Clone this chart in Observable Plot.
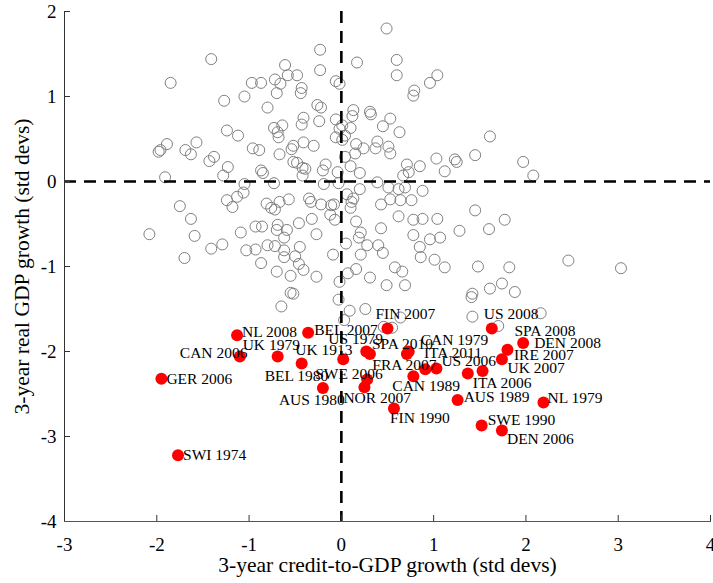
<!DOCTYPE html>
<html><head><meta charset="utf-8">
<script src="https://cdn.jsdelivr.net/npm/d3@7"></script>
<script src="https://cdn.jsdelivr.net/npm/@observablehq/plot@0.6"></script>
<style>html,body{margin:0;padding:0;background:#fff} svg{display:block}</style>
</head><body><div id="chart"></div>
<script>
// Non-crisis observations (open grey circles)
const greyX = [0.49,-1.41,-1.85,-0.23,-0.23,0.17,-0.61,-0.58,-0.48,-0.72,-0.66,-0.97,-0.87,-0.43,-0.44,-0.70,-0.06,-0.02,-1.05,-1.27,-0.80,-0.26,-0.22,0.13,0.31,0.32,0.12,-0.41,-0.43,-0.24,-0.06,0.01,0.10,-0.02,-0.64,-0.73,-0.69,-0.68,-1.24,-1.12,0.45,0.53,-0.06,0.01,0.04,-0.41,-0.30,-0.52,-0.54,-0.67,-0.96,-0.89,0.16,0.24,0.15,0.39,0.37,0.51,0.53,0.04,-1.89,-1.57,-1.69,-1.63,-1.98,-1.96,-1.38,-1.43,-1.23,-0.52,-0.48,-0.42,-0.39,-0.17,-0.20,0.10,-0.04,0.20,-0.87,-0.85,-1.28,-1.91,-0.42,
-0.73,-1.05,-1.06,-1.13,-1.24,-1.18,-1.75,-1.63,-1.59,-2.08,-1.09,-0.93,-0.86,-0.81,-0.76,-0.72,-0.67,-0.57,-0.35,-0.33,-0.22,-0.11,-0.08,-0.12,-0.07,-0.19,-0.03,0.06,0.13,0.11,0.10,0.20,0.39,0.51,0.43,0.53,-0.32,-0.46,-0.69,-0.70,-0.59,-0.62,-0.27,0.16,0.21,0.19,0.43,0.05,0.28,0.40,0.45,0.21,-0.09,-0.45,-0.62,-0.72,-0.80,-0.93,-1.03,-1.29,-1.41,-1.70,-0.87,-0.62,-0.50,-0.46,-0.41,-0.55,-0.70,-0.27,0.07,0.16,0.31,0.49,-0.02,-0.55,-0.52,-0.65,-0.03,0.09,0.26,0.03,0.46,
0.62,0.69,0.88,0.64,0.76,0.62,0.78,0.88,1.04,1.45,1.77,1.28,1.60,0.78,0.96,1.07,0.85,0.86,1.01,1.12,1.48,1.82,2.46,3.03,0.58,0.66,0.69,1.42,1.41,1.61,1.74,1.88,1.42,2.16,1.70,0.64,0.55,
0.60,0.60,0.79,0.78,0.96,1.04,0.63,0.71,0.67,0.73,0.85,1.03,1.12,1.23,1.25,1.45,1.61,1.97,2.08];
const greyY = [1.80,1.44,1.16,1.55,1.31,1.40,1.37,1.25,1.25,1.20,1.15,1.16,1.16,1.10,1.04,1.04,1.18,1.15,1.00,0.95,0.87,0.90,0.87,0.84,0.82,0.79,0.77,0.75,0.67,0.71,0.73,0.66,0.63,0.62,0.66,0.63,0.58,0.52,0.60,0.54,0.65,0.74,0.52,0.49,0.54,0.46,0.42,0.42,0.38,0.32,0.39,0.37,0.44,0.39,0.33,0.47,0.39,0.41,0.33,0.29,0.44,0.46,0.37,0.32,0.35,0.37,0.29,0.24,0.17,0.23,0.22,0.16,0.15,0.20,0.13,0.18,0.11,0.10,0.13,0.10,0.07,0.05,0.07,
-0.02,-0.03,-0.13,-0.18,-0.22,-0.30,-0.29,-0.44,-0.64,-0.62,-0.60,-0.53,-0.53,-0.26,-0.31,-0.33,-0.24,-0.21,-0.20,-0.24,-0.27,-0.28,-0.27,-0.39,-0.45,-0.03,-0.02,-0.15,-0.20,-0.24,-0.31,-0.09,-0.01,-0.07,-0.27,-0.21,-0.44,-0.49,-0.51,-0.57,-0.57,-0.66,-0.62,-0.47,-0.60,-0.66,-0.55,-0.73,-0.75,-0.75,-0.84,-0.86,-0.86,-0.77,-0.81,-0.76,-0.75,-0.80,-0.81,-0.74,-0.79,-0.90,-0.96,-0.89,-0.88,-0.97,-1.04,-1.11,-1.06,-1.12,-1.08,-1.03,-1.13,-1.22,-1.18,-1.31,-1.32,-1.47,-1.39,-1.52,-1.50,-1.63,-1.71,
-0.09,-0.07,-0.11,-0.22,-0.22,-0.41,-0.45,-0.44,-0.44,-0.34,-0.45,-0.58,-0.56,-0.63,-0.68,-0.66,-0.77,-0.89,-0.92,-1.01,-1.00,-1.01,-0.93,-1.02,-1.01,-1.06,-1.22,-1.32,-1.36,-1.26,-1.20,-1.30,-1.59,-1.55,-1.70,-1.60,-1.72,
1.43,1.25,1.07,1.01,1.16,1.25,0.58,0.20,0.07,0.11,0.18,0.27,0.12,0.26,0.23,0.31,0.53,0.23,0.07];

// Crisis episodes (red dots)
const crisisNames = ["NL 2008","CAN 2006","UK 1979","BEL 2007","BEL 1980","UK 1913","AUS 1980","US 1979","SPA 2010","SWE 2006","NOR 2007","GER 2006","SWI 1974","FIN 2007","US 2008","CAN 1979","ITA 2011","FRA 2007","CAN 1989","US 2006","ITA 2006","UK 2007","IRE 2007","SPA 2008","DEN 2008","FIN 1990","AUS 1989","NL 1979","SWE 1990","DEN 2006"];
const crisisX = [-1.13,-1.10,-0.69,-0.36,-0.43,0.02,-0.20,0.27,0.31,0.28,0.25,-1.95,-1.77,0.50,1.63,0.73,0.71,0.78,0.91,1.03,1.37,1.53,1.74,1.80,1.97,0.57,1.26,2.19,1.52,1.74];
const crisisY = [-1.81,-2.06,-2.06,-1.78,-2.14,-2.09,-2.43,-2.00,-2.03,-2.33,-2.42,-2.32,-3.22,-1.73,-1.73,-2.00,-2.03,-2.29,-2.21,-2.20,-2.26,-2.23,-2.09,-1.98,-1.90,-2.67,-2.57,-2.60,-2.87,-2.93];

const xTicks = [-3,-2,-1,0,1,2,3,4];
const yTicks = [-4,-3,-2,-1,0,1,2];
const xLabel = "3-year credit-to-GDP growth (std devs)";
const yLabel = "3-year real GDP growth (std devs)";

// label placement (pixel offsets from the dot to the label's left/middle)
const labelOffsets = {
  "NL 2008":[5,-3],"CAN 2006":[-60,-4],"UK 1979":[-35,-12],"BEL 2007":[6,-3],"BEL 1980":[-37,13],
  "UK 1913":[-48,-9],"AUS 1980":[-44,12],"US 1979":[-38,-12],"SPA 2010":[2,-10],"SWE 2006":[-52,-6],
  "NOR 2007":[-21,11],"GER 2006":[5,0],"SWI 1974":[5,0],"FIN 2007":[-12,-15],"US 2008":[-8,-15],
  "CAN 1979":[12,-11],"ITA 2011":[17,-1],"FRA 2007":[-41,-11],"CAN 1989":[-33,17],"US 2006":[5,-7],
  "ITA 2006":[5,9],"UK 2007":[25,-3],"IRE 2007":[12,-4],"SPA 2008":[7,-19],"DEN 2008":[11,0],
  "FIN 1990":[-4,10],"AUS 1989":[6,-3],"NL 1979":[4,-4],"SWE 1990":[6,-5],"DEN 2006":[5,8]
};

const grey = greyX.map((x, i) => ({x, y: greyY[i]}));
const crises = crisisNames.map((name, i) => ({name, x: crisisX[i], y: crisisY[i]}));
const font = "'Liberation Serif', 'Times New Roman', serif";

const labelMarks = crises.map(d => Plot.text([d], {
  x: "x", y: "y", text: "name",
  dx: labelOffsets[d.name][0], dy: labelOffsets[d.name][1],
  textAnchor: "start", lineAnchor: "middle",
  fontSize: 15.5, fontFamily: font, fill: "black"
}));

const chart = Plot.plot({
  width: 713, height: 583,
  marginLeft: 64, marginRight: 3, marginTop: 11, marginBottom: 62,
  style: {fontFamily: font, background: "white", color: "black"},
  x: {domain: [-3, 4]},
  y: {domain: [-4, 2]},
  marks: [
    Plot.dot(grey, {x: "x", y: "y", r: 5.5, stroke: "#808080", strokeWidth: 1, fill: "none"}),
    Plot.ruleX([0], {stroke: "black", strokeWidth: 2.6, strokeDasharray: "12,8"}),
    Plot.ruleY([0], {stroke: "black", strokeWidth: 2.6, strokeDasharray: "12,8"}),
    Plot.axisX({ticks: xTicks, tickFormat: d => String(d), tickSize: -6, tickPadding: 22, fontSize: 19, label: null, stroke: "#333"}),
    Plot.axisY({ticks: yTicks, tickFormat: d => String(d), tickSize: -6, tickPadding: 14, fontSize: 19, label: null, stroke: "#333"}),
    Plot.frame({anchor: "left", stroke: "#333"}),
    Plot.frame({anchor: "bottom", stroke: "#555"}),
    Plot.dot(crises, {x: "x", y: "y", r: 6, fill: "#ff0000", stroke: "none"}),
    ...labelMarks,
    Plot.text([xLabel], {frameAnchor: "bottom", dy: 50, fontSize: 21.5, fontFamily: font, fill: "black"}),
    Plot.text([yLabel], {frameAnchor: "left", dx: -42, rotate: -90, textAnchor: "middle", fontSize: 21.5, fontFamily: font, fill: "black"})
  ]
});
document.getElementById("chart").appendChild(chart);
</script>
</body></html>
